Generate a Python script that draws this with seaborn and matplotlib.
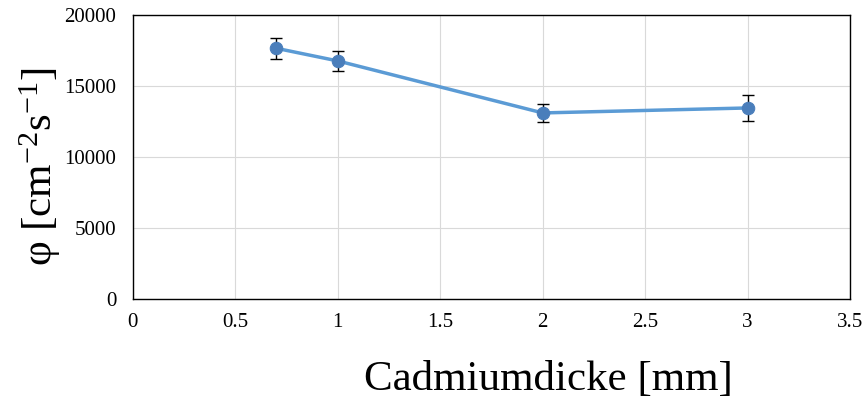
import numpy as np
import pandas as pd
import matplotlib
matplotlib.use('Agg')
import matplotlib.pyplot as plt
import seaborn as sns

# Daten
dicke = [0.7, 1.0, 2.0, 3.0]
fluss = [17650, 16760, 13100, 13450]
fehler = [750, 700, 620, 940]

x_ticks = [0, 0.5, 1, 1.5, 2, 2.5, 3, 3.5]
x_labels = ['0', '0.5', '1', '1.5', '2', '2.5', '3', '3.5']
y_ticks = [0, 5000, 10000, 15000, 20000]

df = pd.DataFrame({'Dicke': dicke, 'Fluss': fluss})

sns.set_style('white')
plt.rcParams['font.family'] = ['Liberation Serif', 'DejaVu Serif']
plt.rcParams['mathtext.fontset'] = 'custom'
plt.rcParams['mathtext.rm'] = 'Liberation Serif'
plt.rcParams['mathtext.it'] = 'Liberation Serif:italic'
plt.rcParams['text.color'] = 'black'
plt.rcParams['axes.labelcolor'] = 'black'
plt.rcParams['xtick.color'] = 'black'
plt.rcParams['ytick.color'] = 'black'

fig = plt.figure(figsize=(8.63, 4.03), dpi=100)
ax = fig.add_axes([0.154, 0.258, 0.831, 0.705])

sns.lineplot(data=df, x='Dicke', y='Fluss', ax=ax, color='#5b9bd5', lw=2.5,
             marker='o', markersize=9, markerfacecolor='#4a7ebb',
             markeredgecolor='#4a7ebb', zorder=3)
ax.errorbar(dicke, fluss, yerr=fehler, fmt='none', ecolor='black',
            elinewidth=1, capsize=4, capthick=1, zorder=2)

ax.set_xlim(0, 3.5)
ax.set_ylim(0, 20000)
ax.set_xticks(x_ticks)
ax.set_xticklabels(x_labels)
ax.set_yticks(y_ticks)
ax.set_yticklabels([str(v) for v in y_ticks])
ax.tick_params(axis='both', length=0, labelsize=15)
ax.tick_params(axis='y', pad=12)
ax.tick_params(axis='x', pad=10)

ax.grid(True, color='#d9d9d9', lw=0.8)
for s in ax.spines.values():
    s.set_color('black')
    s.set_linewidth(1)

ax.set_xlabel('Cadmiumdicke [mm]', fontsize=31)
ax.set_ylabel(r'φ [cm$^{-2}$s$^{-1}$]', fontsize=31)
ax.xaxis.set_label_coords(0.579, -0.215)
ax.yaxis.set_label_coords(-0.098, 0.465)

fig.savefig('out.png', dpi=100)
